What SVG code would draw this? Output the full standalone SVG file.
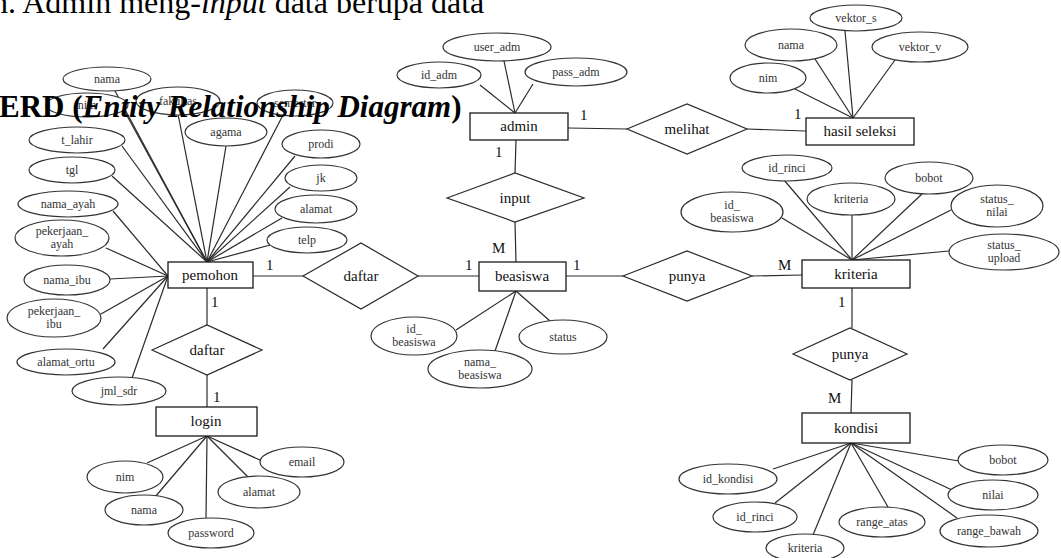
<svg xmlns="http://www.w3.org/2000/svg" width="1061" height="558" viewBox="0 0 1061 558">
<style>
.bg{fill:#fff}
.ln{stroke:#2a2a2a;stroke-width:1.2;fill:none}
.ent rect{fill:#fff;stroke:#1a1a1a;stroke-width:1.3}
.ent text{font-family:"Liberation Serif",serif;font-size:15px;fill:#111;text-anchor:middle}
.rel polygon{fill:#fff;stroke:#2a2a2a;stroke-width:1.2}
.rel text{font-family:"Liberation Serif",serif;font-size:15px;fill:#111;text-anchor:middle}
.attr ellipse{fill:#fff;stroke:#333;stroke-width:1.2}
.attr text{font-family:"Liberation Serif",serif;font-size:12px;fill:#333;text-anchor:middle}
.card{font-family:"Liberation Serif",serif;font-size:15px;fill:#111}
.hdr{font-family:"Liberation Serif",serif;fill:#000}
</style>
<rect class="bg" x="0" y="0" width="1061" height="558"/>

<g id="connectors">
<!-- relationships -->
<line class="ln" x1="568" y1="128" x2="627" y2="129"/>
<line class="ln" x1="747" y1="129" x2="806" y2="131"/>
<line class="ln" x1="516" y1="140" x2="515" y2="173"/>
<line class="ln" x1="515" y1="222" x2="516" y2="262"/>
<line class="ln" x1="253" y1="276" x2="303" y2="276"/>
<line class="ln" x1="418" y1="276" x2="479" y2="276"/>
<line class="ln" x1="566" y1="276" x2="623" y2="276"/>
<line class="ln" x1="752" y1="276" x2="802" y2="275"/>
<line class="ln" x1="207" y1="288" x2="207" y2="325"/>
<line class="ln" x1="207" y1="375" x2="207" y2="407"/>
<line class="ln" x1="852" y1="288" x2="852" y2="328"/>
<line class="ln" x1="852" y1="380" x2="851" y2="413"/>
<!-- pemohon attributes -->
<line class="ln" x1="115" y1="91" x2="207" y2="262"/>
<line class="ln" x1="125" y1="112" x2="207" y2="262"/>
<line class="ln" x1="178" y1="114" x2="207" y2="262"/>
<line class="ln" x1="283" y1="115" x2="207" y2="262"/>
<line class="ln" x1="122" y1="146" x2="207" y2="262"/>
<line class="ln" x1="112" y1="176" x2="207" y2="262"/>
<line class="ln" x1="226" y1="146" x2="207" y2="262"/>
<line class="ln" x1="295" y1="156" x2="207" y2="262"/>
<line class="ln" x1="290" y1="187" x2="207" y2="262"/>
<line class="ln" x1="282" y1="218" x2="207" y2="262"/>
<line class="ln" x1="270" y1="245" x2="207" y2="262"/>
<line class="ln" x1="113" y1="211" x2="168" y2="276"/>
<line class="ln" x1="106" y1="248" x2="168" y2="276"/>
<line class="ln" x1="110" y1="279" x2="168" y2="276"/>
<line class="ln" x1="101" y1="314" x2="168" y2="276"/>
<line class="ln" x1="103" y1="349" x2="168" y2="276"/>
<line class="ln" x1="132" y1="378" x2="168" y2="276"/>
<!-- login attributes -->
<line class="ln" x1="147" y1="463" x2="207" y2="436"/>
<line class="ln" x1="155" y1="497" x2="207" y2="436"/>
<line class="ln" x1="206" y1="518" x2="207" y2="436"/>
<line class="ln" x1="248" y1="477" x2="207" y2="436"/>
<line class="ln" x1="262" y1="461" x2="207" y2="436"/>
<!-- admin attributes -->
<line class="ln" x1="480" y1="85" x2="515" y2="113"/>
<line class="ln" x1="504" y1="61" x2="515" y2="113"/>
<line class="ln" x1="533" y1="84" x2="515" y2="113"/>
<!-- hasil seleksi attributes -->
<line class="ln" x1="795" y1="89" x2="853" y2="118"/>
<line class="ln" x1="815" y1="59" x2="853" y2="118"/>
<line class="ln" x1="845" y1="31" x2="853" y2="118"/>
<line class="ln" x1="895" y1="60" x2="853" y2="118"/>
<!-- beasiswa attributes -->
<line class="ln" x1="456" y1="330" x2="516" y2="291"/>
<line class="ln" x1="495" y1="351" x2="516" y2="291"/>
<line class="ln" x1="550" y1="321" x2="516" y2="291"/>
<!-- kriteria attributes -->
<line class="ln" x1="782" y1="218" x2="852" y2="260"/>
<line class="ln" x1="784" y1="180" x2="852" y2="260"/>
<line class="ln" x1="852" y1="214" x2="852" y2="260"/>
<line class="ln" x1="922" y1="194" x2="852" y2="260"/>
<line class="ln" x1="951" y1="210" x2="852" y2="260"/>
<line class="ln" x1="949" y1="251" x2="852" y2="260"/>
<!-- kondisi attributes -->
<line class="ln" x1="773" y1="469" x2="851" y2="443"/>
<line class="ln" x1="775" y1="503" x2="851" y2="443"/>
<line class="ln" x1="813" y1="535" x2="851" y2="443"/>
<line class="ln" x1="888" y1="507" x2="851" y2="443"/>
<line class="ln" x1="957" y1="518" x2="851" y2="443"/>
<line class="ln" x1="952" y1="490" x2="851" y2="443"/>
<line class="ln" x1="959" y1="461" x2="851" y2="443"/>
</g>

<g id="cardinalities">
<text class="card" x="580" y="120">1</text>
<text class="card" x="794" y="119">1</text>
<text class="card" x="495" y="157">1</text>
<text class="card" x="492" y="253">M</text>
<text class="card" x="465" y="270">1</text>
<text class="card" x="573" y="270">1</text>
<text class="card" x="778" y="270">M</text>
<text class="card" x="838" y="307">1</text>
<text class="card" x="828" y="403">M</text>
<text class="card" x="266" y="270">1</text>
<text class="card" x="211" y="307">1</text>
<text class="card" x="213" y="402">1</text>
</g>

<!-- entities -->
<g id="admin" class="ent"><rect x="470" y="113" width="98" height="27"/><text x="519" y="131">admin</text></g>
<g id="hasil_seleksi" class="ent"><rect x="806" y="118" width="108" height="27"/><text x="860" y="136">hasil seleksi</text></g>
<g id="pemohon" class="ent"><rect x="168" y="262" width="85" height="26"/><text x="210" y="280">pemohon</text></g>
<g id="beasiswa" class="ent"><rect x="479" y="262" width="87" height="29"/><text x="522" y="281">beasiswa</text></g>
<g id="kriteria" class="ent"><rect x="802" y="260" width="108" height="28"/><text x="856" y="279">kriteria</text></g>
<g id="login" class="ent"><rect x="156" y="407" width="101" height="29"/><text x="206" y="426">login</text></g>
<g id="kondisi" class="ent"><rect x="802" y="413" width="108" height="30"/><text x="856" y="433">kondisi</text></g>

<!-- relationships -->
<g id="rel_melihat" class="rel"><polygon points="627,129 687,104 747,129 687,154"/><text x="687" y="134">melihat</text></g>
<g id="rel_input" class="rel"><polygon points="447,198 515,173 584,198 515,222"/><text x="515" y="203">input</text></g>
<g id="rel_daftar1" class="rel"><polygon points="303,276 361,243 418,276 361,309"/><text x="361" y="281">daftar</text></g>
<g id="rel_punya1" class="rel"><polygon points="623,276 687,251 752,276 687,301"/><text x="687" y="281">punya</text></g>
<g id="rel_daftar2" class="rel"><polygon points="152,350 207,325 262,350 207,375"/><text x="207" y="355">daftar</text></g>
<g id="rel_punya2" class="rel"><polygon points="793,354 850,328 907,354 850,380"/><text x="850" y="359">punya</text></g>

<!-- pemohon attributes -->
<g id="a_pemohon_nama" class="attr"><ellipse cx="107" cy="79" rx="44" ry="12"/><text x="107" y="83">nama</text></g>
<g id="a_pemohon_nim" class="attr"><ellipse cx="87" cy="105" rx="41" ry="12"/><text x="87" y="109">nim</text></g>
<g id="a_pemohon_fakultas" class="attr"><ellipse cx="178" cy="101" rx="42" ry="14"/><text x="178" y="105">fakultas</text></g>
<g id="a_pemohon_semester" class="attr"><ellipse cx="295" cy="103" rx="38" ry="13"/><text x="295" y="107">semester</text></g>
<g id="a_t_lahir" class="attr"><ellipse cx="77" cy="140" rx="48" ry="13"/><text x="77" y="144">t_lahir</text></g>
<g id="a_tgl" class="attr"><ellipse cx="72" cy="170" rx="43" ry="13"/><text x="72" y="174">tgl</text></g>
<g id="a_nama_ayah" class="attr"><ellipse cx="68" cy="204" rx="50" ry="13"/><text x="68" y="208">nama_ayah</text></g>
<g id="a_pekerjaan_ayah" class="attr"><ellipse cx="62" cy="238" rx="47" ry="18"/><text x="62" y="235">pekerjaan_</text><text x="62" y="248">ayah</text></g>
<g id="a_nama_ibu" class="attr"><ellipse cx="67" cy="280" rx="43" ry="15"/><text x="67" y="284">nama_ibu</text></g>
<g id="a_pekerjaan_ibu" class="attr"><ellipse cx="54" cy="318" rx="47" ry="19"/><text x="54" y="315">pekerjaan_</text><text x="54" y="328">ibu</text></g>
<g id="a_alamat_ortu" class="attr"><ellipse cx="66" cy="362" rx="49" ry="13"/><text x="66" y="366">alamat_ortu</text></g>
<g id="a_jml_sdr" class="attr"><ellipse cx="119" cy="391" rx="47" ry="14"/><text x="119" y="395">jml_sdr</text></g>
<g id="a_agama" class="attr"><ellipse cx="226" cy="132" rx="41" ry="14"/><text x="226" y="136">agama</text></g>
<g id="a_prodi" class="attr"><ellipse cx="321" cy="144" rx="39" ry="14"/><text x="321" y="148">prodi</text></g>
<g id="a_jk" class="attr"><ellipse cx="321" cy="178" rx="36" ry="13"/><text x="321" y="182">jk</text></g>
<g id="a_pemohon_alamat" class="attr"><ellipse cx="316" cy="209" rx="41" ry="14"/><text x="316" y="213">alamat</text></g>
<g id="a_telp" class="attr"><ellipse cx="307" cy="240" rx="40" ry="13"/><text x="307" y="244">telp</text></g>

<!-- login attributes -->
<g id="a_login_nim" class="attr"><ellipse cx="125" cy="477" rx="38" ry="16"/><text x="125" y="481">nim</text></g>
<g id="a_login_nama" class="attr"><ellipse cx="144" cy="510" rx="39" ry="15"/><text x="144" y="514">nama</text></g>
<g id="a_password" class="attr"><ellipse cx="211" cy="533" rx="43" ry="15"/><text x="211" y="537">password</text></g>
<g id="a_login_alamat" class="attr"><ellipse cx="259" cy="492" rx="41" ry="16"/><text x="259" y="496">alamat</text></g>
<g id="a_email" class="attr"><ellipse cx="302" cy="462" rx="42" ry="15"/><text x="302" y="466">email</text></g>

<!-- admin attributes -->
<g id="a_id_adm" class="attr"><ellipse cx="439" cy="75" rx="42" ry="13"/><text x="439" y="79">id_adm</text></g>
<g id="a_user_adm" class="attr"><ellipse cx="497" cy="47" rx="54" ry="14"/><text x="497" y="51">user_adm</text></g>
<g id="a_pass_adm" class="attr"><ellipse cx="576" cy="72" rx="51" ry="14"/><text x="576" y="76">pass_adm</text></g>

<!-- hasil seleksi attributes -->
<g id="a_hs_nim" class="attr"><ellipse cx="768" cy="78" rx="38" ry="15"/><text x="768" y="82">nim</text></g>
<g id="a_hs_nama" class="attr"><ellipse cx="791" cy="45" rx="46" ry="16"/><text x="791" y="49">nama</text></g>
<g id="a_vektor_s" class="attr"><ellipse cx="856" cy="18" rx="46" ry="13"/><text x="856" y="22">vektor_s</text></g>
<g id="a_vektor_v" class="attr"><ellipse cx="920" cy="47" rx="48" ry="15"/><text x="920" y="51">vektor_v</text></g>

<!-- beasiswa attributes -->
<g id="a_b_id_beasiswa" class="attr"><ellipse cx="414" cy="336" rx="43" ry="19"/><text x="414" y="333">id_</text><text x="414" y="346">beasiswa</text></g>
<g id="a_nama_beasiswa" class="attr"><ellipse cx="480" cy="369" rx="52" ry="19"/><text x="480" y="366">nama_</text><text x="480" y="379">beasiswa</text></g>
<g id="a_status" class="attr"><ellipse cx="563" cy="337" rx="44" ry="17"/><text x="563" y="341">status</text></g>

<!-- kriteria attributes -->
<g id="a_k_id_beasiswa" class="attr"><ellipse cx="732" cy="212" rx="51" ry="20"/><text x="732" y="209">id_</text><text x="732" y="222">beasiswa</text></g>
<g id="a_k_id_rinci" class="attr"><ellipse cx="787" cy="168" rx="45" ry="13"/><text x="787" y="172">id_rinci</text></g>
<g id="a_k_kriteria" class="attr"><ellipse cx="851" cy="199" rx="44" ry="16"/><text x="851" y="203">kriteria</text></g>
<g id="a_k_bobot" class="attr"><ellipse cx="929" cy="178" rx="44" ry="16"/><text x="929" y="182">bobot</text></g>
<g id="a_status_nilai" class="attr"><ellipse cx="997" cy="206" rx="46" ry="21"/><text x="997" y="203">status_</text><text x="997" y="216">nilai</text></g>
<g id="a_status_upload" class="attr"><ellipse cx="1004" cy="252" rx="55" ry="18"/><text x="1004" y="249">status_</text><text x="1004" y="262">upload</text></g>

<!-- kondisi attributes -->
<g id="a_id_kondisi" class="attr"><ellipse cx="728" cy="479" rx="49" ry="15"/><text x="728" y="483">id_kondisi</text></g>
<g id="a_ko_id_rinci" class="attr"><ellipse cx="755" cy="517" rx="42" ry="15"/><text x="755" y="521">id_rinci</text></g>
<g id="a_ko_kriteria" class="attr"><ellipse cx="805" cy="548" rx="39" ry="14"/><text x="805" y="552">kriteria</text></g>
<g id="a_range_atas" class="attr"><ellipse cx="882" cy="522" rx="43" ry="15"/><text x="882" y="526">range_atas</text></g>
<g id="a_range_bawah" class="attr"><ellipse cx="989" cy="531" rx="49" ry="16"/><text x="989" y="535">range_bawah</text></g>
<g id="a_nilai" class="attr"><ellipse cx="993" cy="495" rx="45" ry="15"/><text x="993" y="499">nilai</text></g>
<g id="a_ko_bobot" class="attr"><ellipse cx="1003" cy="460" rx="45" ry="15"/><text x="1003" y="464">bobot</text></g>

<!-- page text -->
<text class="hdr" x="-8" y="13" font-size="32">n. Admin meng-<tspan font-style="italic">input</tspan> data berupa data</text>
<text class="hdr" x="-1" y="117" font-size="31" font-weight="bold">ERD (<tspan font-style="italic">Entity Relationship Diagram</tspan>)</text>
</svg>
